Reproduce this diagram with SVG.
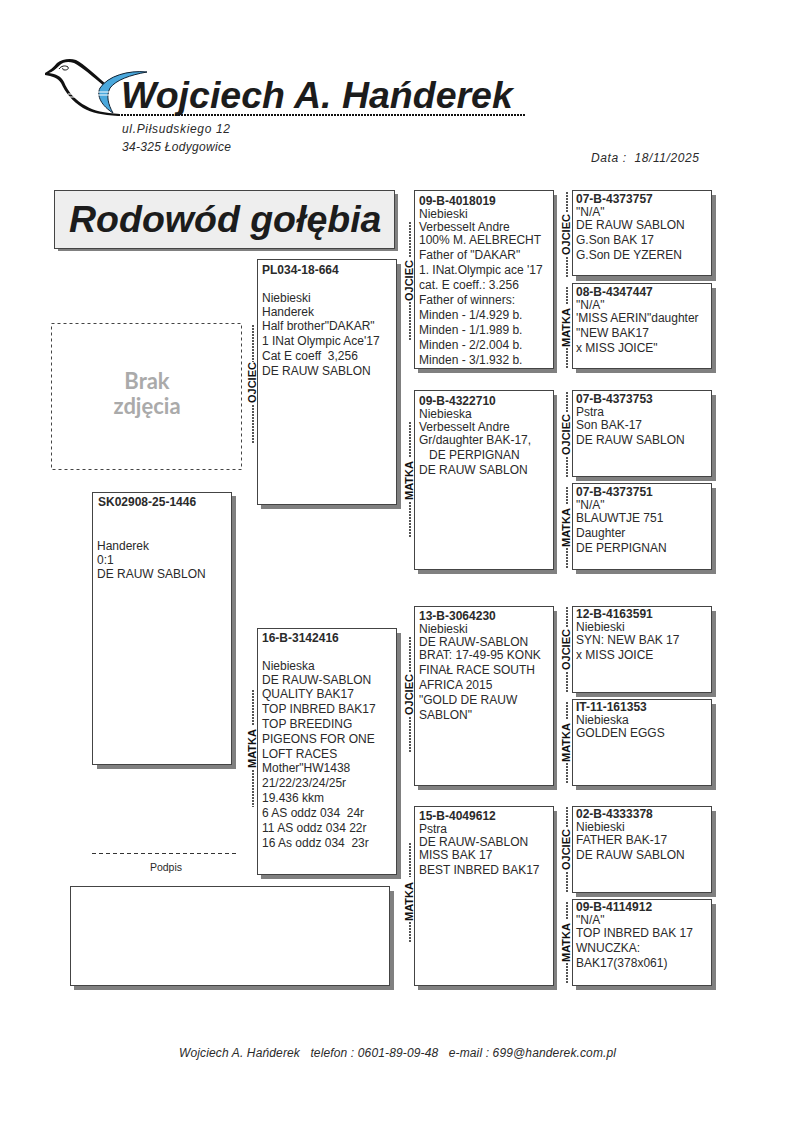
<svg xmlns="http://www.w3.org/2000/svg" width="794" height="1123" viewBox="0 0 794 1123">
<style>
text{font-family:"Liberation Sans",Arial,sans-serif;fill:#2a2a2a}
.s{fill:#808080}
.b{fill:#fff;stroke:#444;stroke-width:1}
.t{font-size:12px}
.h{font-size:12px;font-weight:bold}
.l{font-size:11px;font-weight:bold;fill:#111}
.d{stroke:#555;stroke-width:2;stroke-dasharray:2 1;fill:none}
.i{font-style:italic;font-size:12px}
.big{font-size:37.500px;font-weight:bold;font-style:italic;fill:#1c1c1c}
</style>
<rect width="794" height="1123" fill="#fff"/>
<g id="logo">
<path d="M45 73C50 70 54 67 57 63C62 59 70 58 76 60C84 64 94 74 106 84L104 86C92 76 82 67 74 63C68 61 63 62 60 65C56 69 52 72 49 73C56 74 61 76 64 82C68 92 76 101 86 106C94 111 104 113 120 114L118 116C102 115 92 113 83 108C72 101 65 92 61 83C58 78 52 76 45 75Z" fill="#111"/>
<path d="M147 72C128 70 108 76 100 88C96 96 102 106 113 113C108 104 106 96 110 88C116 80 130 75 147 72Z" fill="#4aa8dc" stroke="#123" stroke-width="1"/>
<path d="M68 94H78M69 97H79M97 92H110M97 95H111" stroke="#fff" stroke-width="1.200"/>
<path d="M59 69c2-3 6-4 9-2c1 2-1 3-3 3c-2 0-3-1-2-2" fill="none" stroke="#111" stroke-width="1"/>
<text x="121" y="108" class="big">Wojciech A. Hańderek</text>
<path d="M118 115H525" stroke="#111" stroke-width="2" stroke-dasharray="2 1"/>
<text x="122" y="133" class="i" textLength="108">ul.Piłsudskiego 12</text>
<text x="122" y="151" class="i" textLength="109">34-325 Łodygowice</text>
<text x="591" y="162" class="i" textLength="108">Data :&#160;&#160;18/11/2025</text>
</g>
<g id="title">
<rect x="58" y="194" width="340" height="57" class="s"/>
<rect x="54.500" y="190.500" width="340" height="58" fill="#eee" stroke="#444"/>
<text x="69" y="232" class="big">Rodowód gołębia</text>
</g>
<g id="photo">
<rect x="51.500" y="323.500" width="190" height="146" fill="#fff" stroke="#444" stroke-dasharray="3 3"/>
<text x="147" y="389" text-anchor="middle" font-size="22" font-weight="bold" style="font-family:Lato,sans-serif;fill:#aaa">Brak</text>
<text x="147" y="414" text-anchor="middle" font-size="22" font-weight="bold" style="font-family:Lato,sans-serif;fill:#aaa">zdjęcia</text>
</g>
<g id="connectors">
<path class="d" d="M253 325V362M253 405V443"/><text class="l" transform="translate(256,403) rotate(-90)">OJCIEC</text>
<path class="d" d="M253 690V725M253 770V807"/><text class="l" transform="translate(256,768) rotate(-90)">MATKA</text>
<path class="d" d="M410 222V257M410 302V340"/><text class="l" transform="translate(413,301) rotate(-90)">OJCIEC</text>
<path class="d" d="M410 422V457M410 502V538"/><text class="l" transform="translate(413,500) rotate(-90)">MATKA</text>
<path class="d" d="M410 637V672M410 717V753"/><text class="l" transform="translate(413,715) rotate(-90)">OJCIEC</text>
<path class="d" d="M410 843V877M410 922V943"/><text class="l" transform="translate(413,921) rotate(-90)">MATKA</text>
<path class="d" d="M567 192V213M567 257V277"/><text class="l" transform="translate(570,255) rotate(-90)">OJCIEC</text>
<path class="d" d="M567 287V305M567 348V368"/><text class="l" transform="translate(570,347) rotate(-90)">MATKA</text>
<path class="d" d="M567 392V413M567 457V477"/><text class="l" transform="translate(570,455) rotate(-90)">OJCIEC</text>
<path class="d" d="M567 487V505M567 548V568"/><text class="l" transform="translate(570,547) rotate(-90)">MATKA</text>
<path class="d" d="M567 607V628M567 672V692"/><text class="l" transform="translate(570,670) rotate(-90)">OJCIEC</text>
<path class="d" d="M567 702V720M567 763V784"/><text class="l" transform="translate(570,762) rotate(-90)">MATKA</text>
<path class="d" d="M567 807V828M567 872V892"/><text class="l" transform="translate(570,870) rotate(-90)">OJCIEC</text>
<path class="d" d="M567 902V920M567 963V984"/><text class="l" transform="translate(570,962) rotate(-90)">MATKA</text>
</g>
<g id="n1"><rect x="97" y="496" width="139" height="273" class="s"/><rect x="92.500" y="492.500" width="139" height="272" class="b"/><text x="98" y="506" class="h">SK02908-25-1446</text><text x="97" y="550" class="t">Handerek</text><text x="97" y="564" class="t">0:1</text><text x="97" y="578" class="t">DE RAUW SABLON</text></g>
<g id="n2"><rect x="261" y="264" width="140" height="245" class="s"/><rect x="257.500" y="259.500" width="139" height="245" class="b"/><text x="262" y="274" class="h">PL034-18-664</text><text x="262" y="302" class="t">Niebieski</text><text x="262" y="316" class="t">Handerek</text><text x="262" y="330" class="t">Half brother"DAKAR"</text><text x="262" y="345" class="t">1 INat Olympic Ace'17</text><text x="262" y="360" class="t">Cat E coeff&#160;&#160;3,256</text><text x="262" y="375" class="t">DE RAUW SABLON</text></g>
<g id="n3"><rect x="261" y="633" width="140" height="246" class="s"/><rect x="257.500" y="628.500" width="139" height="246" class="b"/><text x="262" y="642" class="h">16-B-3142416</text><text x="262" y="670" class="t">Niebieska</text><text x="262" y="684" class="t">DE RAUW-SABLON</text><text x="262" y="698" class="t">QUALITY BAK17</text><text x="262" y="713" class="t">TOP INBRED BAK17</text><text x="262" y="728" class="t">TOP BREEDING</text><text x="262" y="743" class="t">PIGEONS FOR ONE</text><text x="262" y="758" class="t">LOFT RACES</text><text x="262" y="772" class="t">Mother"HW1438</text><text x="262" y="787" class="t">21/22/23/24/25r</text><text x="262" y="802" class="t">19.436 kkm</text><text x="262" y="817" class="t">6 AS oddz 034&#160;&#160;24r</text><text x="262" y="832" class="t">11 AS oddz 034 22r</text><text x="262" y="847" class="t">16 As oddz 034&#160;&#160;23r</text></g>
<g id="n4"><rect x="418" y="195" width="139" height="178" class="s"/><rect x="414.500" y="190.500" width="139" height="178" class="b"/><text x="419" y="205" class="h">09-B-4018019</text><text x="419" y="218" class="t">Niebieski</text><text x="419" y="231" class="t">Verbesselt Andre</text><text x="419" y="244" class="t">100% M. AELBRECHT</text><text x="419" y="259" class="t">Father of "DAKAR"</text><text x="419" y="274" class="t">1. INat.Olympic ace '17</text><text x="419" y="289" class="t">cat. E coeff.: 3.256</text><text x="419" y="304" class="t">Father of winners:</text><text x="419" y="319" class="t">Minden - 1/4.929 b.</text><text x="419" y="334" class="t">Minden - 1/1.989 b.</text><text x="419" y="349" class="t">Minden - 2/2.004 b.</text><text x="419" y="364" class="t">Minden - 3/1.932 b.</text></g>
<g id="n5"><rect x="418" y="395" width="139" height="179" class="s"/><rect x="414.500" y="390.500" width="139" height="179" class="b"/><text x="419" y="405" class="h">09-B-4322710</text><text x="419" y="418" class="t">Niebieska</text><text x="419" y="431" class="t">Verbesselt Andre</text><text x="419" y="444" class="t">Gr/daughter BAK-17,</text><text x="419" y="459" class="t">&#160;&#160;&#160;DE PERPIGNAN</text><text x="419" y="474" class="t">DE RAUW SABLON</text></g>
<g id="n6"><rect x="418" y="611" width="139" height="179" class="s"/><rect x="414.500" y="606.500" width="139" height="179" class="b"/><text x="419" y="620" class="h">13-B-3064230</text><text x="419" y="633" class="t">Niebieski</text><text x="419" y="646" class="t">DE RAUW-SABLON</text><text x="419" y="659" class="t">BRAT: 17-49-95 KONK</text><text x="419" y="674" class="t">FINAŁ RACE SOUTH</text><text x="419" y="689" class="t">AFRICA 2015</text><text x="419" y="704" class="t">"GOLD DE RAUW</text><text x="419" y="719" class="t">SABLON"</text></g>
<g id="n7"><rect x="418" y="811" width="139" height="179" class="s"/><rect x="414.500" y="806.500" width="139" height="179" class="b"/><text x="419" y="820" class="h">15-B-4049612</text><text x="419" y="833" class="t">Pstra</text><text x="419" y="846" class="t">DE RAUW-SABLON</text><text x="419" y="859" class="t">MISS BAK 17</text><text x="419" y="874" class="t">BEST INBRED BAK17</text></g>
<g id="n8"><rect x="576" y="195" width="140" height="86" class="s"/><rect x="572.500" y="190.500" width="139" height="85" class="b"/><text x="576" y="203" class="h">07-B-4373757</text><text x="576" y="216" class="t">"N/A"</text><text x="576" y="229" class="t">DE RAUW SABLON</text><text x="576" y="244" class="t">G.Son BAK 17</text><text x="576" y="259" class="t">G.Son DE YZEREN</text></g>
<g id="n9"><rect x="576" y="288" width="140" height="85" class="s"/><rect x="572.500" y="283.500" width="139" height="85" class="b"/><text x="576" y="296" class="h">08-B-4347447</text><text x="576" y="309" class="t">"N/A"</text><text x="576" y="322" class="t">'MISS AERIN"daughter</text><text x="576" y="337" class="t">"NEW BAK17</text><text x="576" y="352" class="t">x MISS JOICE"</text></g>
<g id="n10"><rect x="576" y="395" width="140" height="86" class="s"/><rect x="572.500" y="390.500" width="139" height="86" class="b"/><text x="576" y="403" class="h">07-B-4373753</text><text x="576" y="416" class="t">Pstra</text><text x="576" y="429" class="t">Son BAK-17</text><text x="576" y="444" class="t">DE RAUW SABLON</text></g>
<g id="n11"><rect x="576" y="488" width="140" height="86" class="s"/><rect x="572.500" y="483.500" width="139" height="86" class="b"/><text x="576" y="496" class="h">07-B-4373751</text><text x="576" y="509" class="t">"N/A"</text><text x="576" y="522" class="t">BLAUWTJE 751</text><text x="576" y="537" class="t">Daughter</text><text x="576" y="552" class="t">DE PERPIGNAN</text></g>
<g id="n12"><rect x="576" y="611" width="140" height="86" class="s"/><rect x="572.500" y="606.500" width="139" height="86" class="b"/><text x="576" y="618" class="h">12-B-4163591</text><text x="576" y="631" class="t">Niebieski</text><text x="576" y="644" class="t">SYN: NEW BAK 17</text><text x="576" y="659" class="t">x MISS JOICE</text></g>
<g id="n13"><rect x="576" y="704" width="140" height="86" class="s"/><rect x="572.500" y="699.500" width="139" height="86" class="b"/><text x="576" y="711" class="h">IT-11-161353</text><text x="576" y="724" class="t">Niebieska</text><text x="576" y="737" class="t">GOLDEN EGGS</text></g>
<g id="n14"><rect x="576" y="811" width="140" height="86" class="s"/><rect x="572.500" y="806.500" width="139" height="86" class="b"/><text x="576" y="818" class="h">02-B-4333378</text><text x="576" y="831" class="t">Niebieski</text><text x="576" y="844" class="t">FATHER BAK-17</text><text x="576" y="859" class="t">DE RAUW SABLON</text></g>
<g id="n15"><rect x="576" y="904" width="140" height="86" class="s"/><rect x="572.500" y="899.500" width="139" height="86" class="b"/><text x="576" y="911" class="h">09-B-4114912</text><text x="576" y="924" class="t">"N/A"</text><text x="576" y="937" class="t">TOP INBRED BAK 17</text><text x="576" y="952" class="t">WNUCZKA:</text><text x="576" y="967" class="t">BAK17(378x061)</text></g>
<g id="signature">
<path d="M92 853.500H237" stroke="#333" stroke-dasharray="4 3"/>
<text x="166" y="871" text-anchor="middle" font-size="10.500">Podpis</text>
<rect x="74" y="891" width="320" height="99" class="s"/><rect x="70.500" y="886.500" width="319" height="99" class="b"/>
</g>
<text x="179" y="1057" class="i" textLength="437">Wojciech A. Hańderek&#160;&#160;&#160;telefon : 0601-89-09-48&#160;&#160;&#160;e-mail : 699@handerek.com.pl</text>
</svg>
